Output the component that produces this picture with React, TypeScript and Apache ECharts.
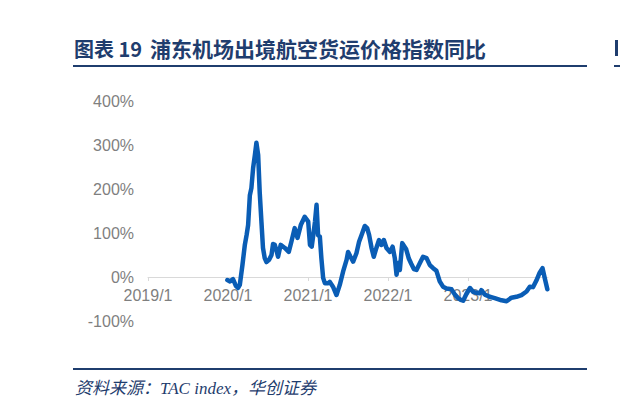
import { useEffect, useRef } from 'react';
import * as echarts from 'echarts';

const titleLead = '图表 19';
const titleMain = '浦东机场出境航空货运价格指数同比';
const sourceText = '资料来源：TAC index，华创证券';

const dates = [
  '2019-12-29', '2020-01-10', '2020-01-24', '2020-02-06', '2020-02-16', '2020-02-24', '2020-03-07', '2020-03-18',
  '2020-03-26', '2020-04-02', '2020-04-10', '2020-04-17', '2020-04-25', '2020-05-03', '2020-05-10', '2020-05-18',
  '2020-05-25', '2020-06-02', '2020-06-09', '2020-06-17', '2020-06-25', '2020-07-07', '2020-07-18', '2020-07-25',
  '2020-08-02', '2020-08-10', '2020-08-17', '2020-08-29', '2020-09-17', '2020-10-05', '2020-10-17', '2020-11-01',
  '2020-11-14', '2020-11-29', '2020-12-17', '2021-01-02', '2021-01-10', '2021-01-18', '2021-01-25', '2021-02-02',
  '2021-02-09', '2021-02-16', '2021-02-24', '2021-03-03', '2021-03-11', '2021-03-19', '2021-04-03', '2021-04-10',
  '2021-04-25', '2021-05-11', '2021-05-26', '2021-06-10', '2021-06-26', '2021-07-03', '2021-07-14', '2021-07-26',
  '2021-08-10', '2021-08-22', '2021-09-02', '2021-09-17', '2021-09-28', '2021-10-07', '2021-10-18', '2021-10-28',
  '2021-11-09', '2021-11-21', '2021-12-02', '2021-12-13', '2021-12-25', '2022-01-10', '2022-01-22', '2022-02-01',
  '2022-02-09', '2022-02-16', '2022-02-24', '2022-03-07', '2022-03-25', '2022-04-06', '2022-04-17', '2022-04-29',
  '2022-05-11', '2022-05-26', '2022-06-10', '2022-06-26', '2022-07-11', '2022-07-26', '2022-08-10', '2022-08-25',
  '2022-09-09', '2022-09-25', '2022-10-18', '2022-11-02', '2022-11-17', '2022-11-29', '2022-12-10', '2022-12-25',
  '2023-01-10', '2023-01-25', '2023-02-09', '2023-02-24', '2023-03-03', '2023-03-19', '2023-04-10', '2023-05-03',
  '2023-06-03', '2023-06-26', '2023-07-18', '2023-08-10', '2023-09-02', '2023-09-25', '2023-10-10', '2023-10-25',
  '2023-11-09', '2023-11-24', '2023-12-07', '2023-12-17', '2023-12-29',
];

const yoy = [
  -7, -10, -5, -20, -25, -18, 27, 73,
  95, 118, 186, 202, 248, 277, 305, 277,
  193, 125, 66, 43, 34, 39, 50, 75,
  73, 60, 46, 73, 66, 57, 80, 111,
  89, 118, 137, 126, 73, 69, 95, 126,
  164, 95, 92, 43, -2, -14, -14, -11,
  -22, -41, -18, 12, 39, 57, 46, 35,
  54, 80, 95, 116, 111, 95, 66, 46,
  66, 84, 73, 84, 66, 57, 69, 43,
  5, 32, 16, 77, 63, 42, 30, 18,
  16, 31, 46, 43, 27, 20, 14, -10,
  -22, -26, -28, -40, -48, -52, -54, -38,
  -25, -34, -36, -37, -30, -40, -45, -48,
  -53, -55, -47, -45, -41, -33, -22, -23,
  -8, 10, 20, -2, -28,
];

const xMinYear = 2019;
const xMaxYear = 2024;
const yMin = -100;
const yMax = 400;
const yStep = 100;

function toYear(s: string): number {
  const [y, m, d] = s.split('-').map(Number);
  const start = Date.UTC(y, 0, 1);
  const end = Date.UTC(y + 1, 0, 1);
  return y + (Date.UTC(y, m - 1, d) - start) / (end - start);
}

export default function App() {
  const ref = useRef<HTMLDivElement>(null);
  useEffect(() => {
    document.body.style.margin = '0';
    if (!ref.current) return;
    const chart = echarts.init(ref.current, null, { renderer: 'svg' });
    const navy = '#1f3d6e';
    const labelFont = '"Liberation Sans Narrow", "Liberation Sans", Arial, sans-serif';
    const gridH = 410 - 101 - 89;
    const zeroOffset = -Math.round((gridH * (0 - yMin)) / (yMax - yMin));
    chart.setOption({
      animation: false,
      backgroundColor: '#ffffff',
      grid: { left: 148, right: 72, top: 101, bottom: 89, containLabel: false },
      xAxis: {
        type: 'value',
        min: xMinYear,
        max: xMaxYear,
        interval: 1,
        offset: zeroOffset,
        axisLine: { show: true, onZero: false, lineStyle: { color: '#d9d9d9', width: 1 } },
        axisTick: { show: true, length: 4, lineStyle: { color: '#d9d9d9' } },
        splitLine: { show: false },
        axisLabel: {
          formatter: (v: number) => `${v}/1`,
          showMaxLabel: false,
          color: '#7f7f7f',
          fontSize: 16,
          fontFamily: labelFont,
          margin: 10,
        },
      },
      yAxis: {
        type: 'value',
        min: yMin,
        max: yMax,
        interval: yStep,
        axisLine: { show: false },
        axisTick: { show: false },
        splitLine: { show: false },
        axisLabel: {
          formatter: (v: number) => `${v}%`,
          color: '#7f7f7f',
          fontSize: 16,
          fontFamily: labelFont,
          margin: 14,
        },
      },
      series: [
        {
          type: 'line',
          data: dates.map((d, i) => [toYear(d), yoy[i]]),
          showSymbol: false,
          symbol: 'none',
          z: 5,
          lineStyle: { color: '#0a5db5', width: 4.5, cap: 'round', join: 'round' },
          itemStyle: { color: '#0a5db5' },
        },
      ],
      graphic: [
        {
          type: 'text',
          x: 74,
          y: 48,
          style: {
            text: titleLead,
            fill: navy,
            fontSize: 20,
            fontWeight: 'bold',
            fontFamily: '"Noto Sans CJK SC", sans-serif',
            verticalAlign: 'middle',
          },
        },
        {
          type: 'text',
          x: 150,
          y: 48,
          style: {
            text: titleMain,
            fill: navy,
            fontSize: 21,
            fontWeight: 'bold',
            fontFamily: '"Noto Sans CJK SC", sans-serif',
            verticalAlign: 'middle',
          },
        },
        { type: 'rect', shape: { x: 73, y: 65, width: 514, height: 2 }, style: { fill: navy } },
        { type: 'rect', shape: { x: 614, y: 65, width: 6, height: 2 }, style: { fill: navy } },
        { type: 'rect', shape: { x: 615, y: 40, width: 3, height: 16 }, style: { fill: navy } },
        { type: 'rect', shape: { x: 73, y: 368, width: 514, height: 2 }, style: { fill: navy } },
        {
          type: 'text',
          x: 75,
          y: 388,
          style: {
            text: sourceText,
            fill: navy,
            fontSize: 17,
            fontStyle: 'italic',
            fontFamily: '"Liberation Serif", "Noto Sans CJK SC", serif',
            verticalAlign: 'middle',
          },
        },
      ],
    });
    return () => chart.dispose();
  }, []);
  return <div ref={ref} style={{ width: 620, height: 410 }} />;
}
